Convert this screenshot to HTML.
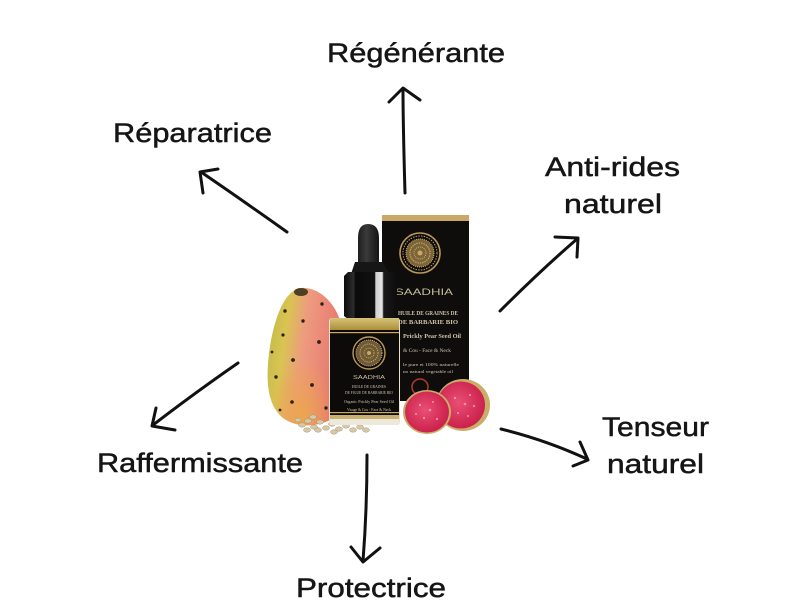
<!DOCTYPE html>
<html><head><meta charset="utf-8">
<style>
html,body{margin:0;padding:0;background:#fff;}
svg{display:block;}
.t{font-family:"Liberation Sans",sans-serif;font-size:27px;fill:#151515;stroke:#151515;stroke-width:0.5px;}
.a{fill:none;stroke:#111;stroke-width:3;stroke-linecap:round;stroke-linejoin:round;}
.s{font-family:"Liberation Serif",serif;fill:#cfc3aa;}
.g{font-family:"Liberation Sans",sans-serif;fill:#c9bb9b;}
</style></head><body>
<svg width="800" height="600" viewBox="0 0 800 600" xmlns="http://www.w3.org/2000/svg">
<defs>
 <linearGradient id="pear" x1="0" y1="0" x2="1" y2="0.25">
  <stop offset="0" stop-color="#bdb847"/>
  <stop offset="0.3" stop-color="#d9c452"/>
  <stop offset="0.55" stop-color="#ee9a80"/>
  <stop offset="1" stop-color="#e7786e"/>
 </linearGradient>
 <radialGradient id="pearb" cx="0.45" cy="0.95" r="0.45">
  <stop offset="0" stop-color="#eba84a" stop-opacity="0.95"/>
  <stop offset="1" stop-color="#eba84a" stop-opacity="0"/>
 </radialGradient>
 <linearGradient id="cap" x1="0" x2="1">
  <stop offset="0" stop-color="#0c0c0c"/>
  <stop offset="0.18" stop-color="#2c2c2c"/>
  <stop offset="0.22" stop-color="#0a0a0a"/>
  <stop offset="0.58" stop-color="#111"/>
  <stop offset="0.6" stop-color="#cfcfcf"/>
  <stop offset="0.72" stop-color="#e6e6e6"/>
  <stop offset="0.75" stop-color="#1a1a1a"/>
  <stop offset="1" stop-color="#0c0c0c"/>
 </linearGradient>
 <linearGradient id="bulb" x1="0" x2="1">
  <stop offset="0" stop-color="#1e1e1e"/>
  <stop offset="0.4" stop-color="#3a3a3a"/>
  <stop offset="1" stop-color="#141414"/>
 </linearGradient>
 <linearGradient id="oil" x1="0" y1="0" x2="0" y2="1">
  <stop offset="0" stop-color="#d6c47a"/>
  <stop offset="1" stop-color="#a88a30"/>
 </linearGradient>
 <radialGradient id="flesh" cx="0.45" cy="0.45" r="0.6">
  <stop offset="0" stop-color="#ea4f74"/>
  <stop offset="1" stop-color="#c81d48"/>
 </radialGradient>
</defs>

<rect width="800" height="600" fill="#fff"/>

<!-- box -->
<rect x="382" y="215" width="87" height="186" fill="#0e0d0c"/>
<rect x="382" y="215" width="87" height="6" fill="#c9a86a"/>
<circle cx="420" cy="253" r="20" fill="none" stroke="#b99a5c" stroke-width="1.6"/>
<circle cx="420" cy="253" r="17" fill="none" stroke="#b99a5c" stroke-width="1" stroke-dasharray="1.5 1.2"/>
<circle cx="420" cy="253" r="14" fill="#7a6438"/>
<circle cx="420" cy="253" r="14" fill="none" stroke="#d0b070" stroke-width="1" stroke-dasharray="1 1"/>
<circle cx="420" cy="253" r="10" fill="none" stroke="#c8a868" stroke-width="1.2" stroke-dasharray="1.4 1"/>
<circle cx="420" cy="253" r="6" fill="none" stroke="#d0b070" stroke-width="1" stroke-dasharray="1 1"/>
<circle cx="420" cy="253" r="2.5" fill="#c8a868"/>
<text class="g" x="395" y="295" font-size="9" textLength="58" lengthAdjust="spacingAndGlyphs">SAADHIA</text>
<text class="s" x="398" y="315" font-size="6.5" font-weight="bold" textLength="60" lengthAdjust="spacingAndGlyphs">HUILE DE GRAINES DE</text>
<text class="s" x="398" y="324" font-size="6.5" font-weight="bold" textLength="60" lengthAdjust="spacingAndGlyphs">DE BARBARIE BIO</text>
<text class="s" x="403" y="338" font-size="6" font-weight="bold" textLength="58" lengthAdjust="spacingAndGlyphs">Prickly Pear Seed Oil</text>
<text class="s" x="403" y="352" font-size="5" textLength="48" lengthAdjust="spacingAndGlyphs">&amp; Cou - Face &amp; Neck</text>
<text class="s" x="403" y="366" font-size="4.5" textLength="56" lengthAdjust="spacingAndGlyphs">le pure et 100% naturelle</text>
<text class="s" x="403" y="373" font-size="4.5" textLength="50" lengthAdjust="spacingAndGlyphs">no natural vegetable oil</text>
<circle cx="420" cy="387" r="8" fill="none" stroke="#b23a2a" stroke-width="1.5"/>

<!-- prickly pear -->
<path d="M301,288 C285,290 275,316 270,346 C265,380 267,405 283,418 C298,429 321,427 337,416 L342,330 C339,305 319,286 301,288 Z" fill="url(#pear)"/>
<path d="M301,288 C285,290 275,316 270,346 C265,380 267,405 283,418 C298,429 321,427 337,416 L342,330 C339,305 319,286 301,288 Z" fill="url(#pearb)"/>
<ellipse cx="301" cy="292" rx="7" ry="4" fill="#4e3f24"/>
<g fill="#2e2014">
 <circle cx="285" cy="311" r="1.7"/><circle cx="322" cy="304" r="1.7"/>
 <circle cx="303" cy="321" r="1.7"/><circle cx="283" cy="335" r="1.6"/>
 <circle cx="319" cy="342" r="1.9"/><circle cx="293" cy="360" r="1.9"/>
 <circle cx="276" cy="377" r="1.7"/><circle cx="312" cy="385" r="1.9"/>
 <circle cx="292" cy="402" r="1.8"/><circle cx="326" cy="408" r="1.7"/>
 <circle cx="272" cy="352" r="1.4"/><circle cx="280" cy="410" r="1.4"/>
</g>

<!-- seeds -->
<g fill="#d6c9a8" stroke="#a39372" stroke-width="0.5">
 <ellipse cx="302" cy="425" rx="3.5" ry="2.2"/><ellipse cx="308" cy="421" rx="3.5" ry="2.2"/>
 <ellipse cx="314" cy="427" rx="3.5" ry="2.2"/><ellipse cx="320" cy="422" rx="3.5" ry="2.2"/>
 <ellipse cx="326" cy="428" rx="3.5" ry="2.2"/><ellipse cx="318" cy="430" rx="3.5" ry="2.2"/>
 <ellipse cx="307" cy="430" rx="3.5" ry="2.2"/><ellipse cx="332" cy="424" rx="3.5" ry="2.2"/>
 <ellipse cx="339" cy="429" rx="3.5" ry="2.2"/><ellipse cx="346" cy="426" rx="3.5" ry="2.2"/>
 <ellipse cx="353" cy="430" rx="3.5" ry="2.2"/><ellipse cx="360" cy="427" rx="3.5" ry="2.2"/>
 <ellipse cx="366" cy="430" rx="3.5" ry="2.2"/><ellipse cx="313" cy="417" rx="3.5" ry="2.2"/>
 <ellipse cx="334" cy="432" rx="3.5" ry="2.2"/><ellipse cx="298" cy="420" rx="3" ry="2"/>
</g>

<!-- bottle -->
<path d="M358,265 L358,238 Q358,224 368,224 Q379,224 379,238 L379,265 Z" fill="url(#bulb)"/>
<path d="M351,274 L355,262 L383,262 L389,274 Z" fill="#161616"/>
<path d="M344,276 L348,272 L393,272 L397,276 L397,316 L393,319 L348,319 L344,316 Z" fill="url(#cap)"/>
<rect x="329" y="318" width="71" height="107" rx="3" fill="#e8e2cc"/>
<rect x="330" y="318" width="69" height="13" fill="url(#oil)"/>
<rect x="330" y="330" width="69" height="85" fill="#0c0b0a"/>
<rect x="330" y="332" width="69" height="1.2" fill="#c9a86a"/>
<rect x="330" y="412" width="69" height="1.2" fill="#c9a86a"/>
<rect x="330" y="415" width="69" height="4" fill="#c8b070"/>
<rect x="330" y="419" width="69" height="6" fill="#ece8dc"/>
<circle cx="369" cy="353" r="16" fill="none" stroke="#b99a5c" stroke-width="1.4"/>
<circle cx="369" cy="353" r="13" fill="#6e5a34"/>
<circle cx="369" cy="353" r="13" fill="none" stroke="#d0b070" stroke-width="1" stroke-dasharray="1 1"/>
<circle cx="369" cy="353" r="9" fill="none" stroke="#c8a868" stroke-width="1" stroke-dasharray="1.2 1"/>
<circle cx="369" cy="353" r="5" fill="none" stroke="#d0b070" stroke-width="0.9" stroke-dasharray="1 1"/>
<circle cx="369" cy="353" r="2" fill="#c8a868"/>
<text class="g" x="353" y="379" font-size="5" textLength="32" lengthAdjust="spacingAndGlyphs">SAADHIA</text>
<text class="s" x="352" y="388" font-size="4.5" textLength="34" lengthAdjust="spacingAndGlyphs">HUILE DE GRAINES</text>
<text class="s" x="345" y="394" font-size="4.5" textLength="48" lengthAdjust="spacingAndGlyphs">DE FIGUE DE BARBARIE BIO</text>
<text class="s" x="344" y="403" font-size="4.5" textLength="50" lengthAdjust="spacingAndGlyphs">Organic Prickly Pear Seed Oil</text>
<text class="s" x="347" y="411" font-size="4.5" textLength="44" lengthAdjust="spacingAndGlyphs">Visage &amp; Cou - Face &amp; Neck</text>

<!-- red fruit halves -->
<ellipse cx="463" cy="405" rx="27" ry="26" fill="#c9ad68"/>
<ellipse cx="461" cy="405" rx="24" ry="23.5" fill="url(#flesh)"/>
<ellipse cx="427" cy="412" rx="24" ry="22" fill="#c9ad68"/>
<ellipse cx="427" cy="412" rx="22" ry="20.5" fill="url(#flesh)"/>
<g fill="#f6a8bc" opacity="0.8">
 <circle cx="420" cy="405" r="1.2"/><circle cx="430" cy="410" r="1.3"/><circle cx="424" cy="418" r="1.1"/>
 <circle cx="433" cy="402" r="1"/><circle cx="416" cy="414" r="1"/><circle cx="437" cy="419" r="1.1"/>
 <circle cx="455" cy="398" r="1.2"/><circle cx="465" cy="404" r="1.3"/><circle cx="458" cy="413" r="1.1"/>
 <circle cx="470" cy="395" r="1"/><circle cx="468" cy="416" r="1"/><circle cx="474" cy="406" r="1.1"/>
</g>

<!-- arrows -->
<path class="a" d="M405,193 C404,158 403,122 403,89"/>
<path class="a" d="M389,102 L403,88 L420,100"/>
<path class="a" d="M287,232 Q242,200 201,172"/>
<path class="a" d="M218,169 L200,172 L203,193"/>
<path class="a" d="M500,311 Q540,271 577,239"/>
<path class="a" d="M555,237 L578,238 L577,257"/>
<path class="a" d="M238,363 Q196,392 153,425"/>
<path class="a" d="M156,408 L152,426 L175,430"/>
<path class="a" d="M501,429 Q546,440 587,459"/>
<path class="a" d="M580,442 L588,460 L573,466"/>
<path class="a" d="M367,455 Q367,510 363,561"/>
<path class="a" d="M351,547 L363,562 L380,548"/>

<!-- labels -->
<text class="t" x="327" y="62" textLength="178" lengthAdjust="spacingAndGlyphs">Régénérante</text>
<text class="t" x="113" y="142" textLength="159" lengthAdjust="spacingAndGlyphs">Réparatrice</text>
<text class="t" x="545" y="176" textLength="135" lengthAdjust="spacingAndGlyphs">Anti-rides</text>
<text class="t" x="564" y="213" textLength="98" lengthAdjust="spacingAndGlyphs">naturel</text>
<text class="t" x="97" y="472" textLength="206" lengthAdjust="spacingAndGlyphs">Raffermissante</text>
<text class="t" x="602" y="436" textLength="107" lengthAdjust="spacingAndGlyphs">Tenseur</text>
<text class="t" x="607" y="473" textLength="97" lengthAdjust="spacingAndGlyphs">naturel</text>
<text class="t" x="296" y="597" textLength="150" lengthAdjust="spacingAndGlyphs">Protectrice</text>
</svg>
</body></html>
